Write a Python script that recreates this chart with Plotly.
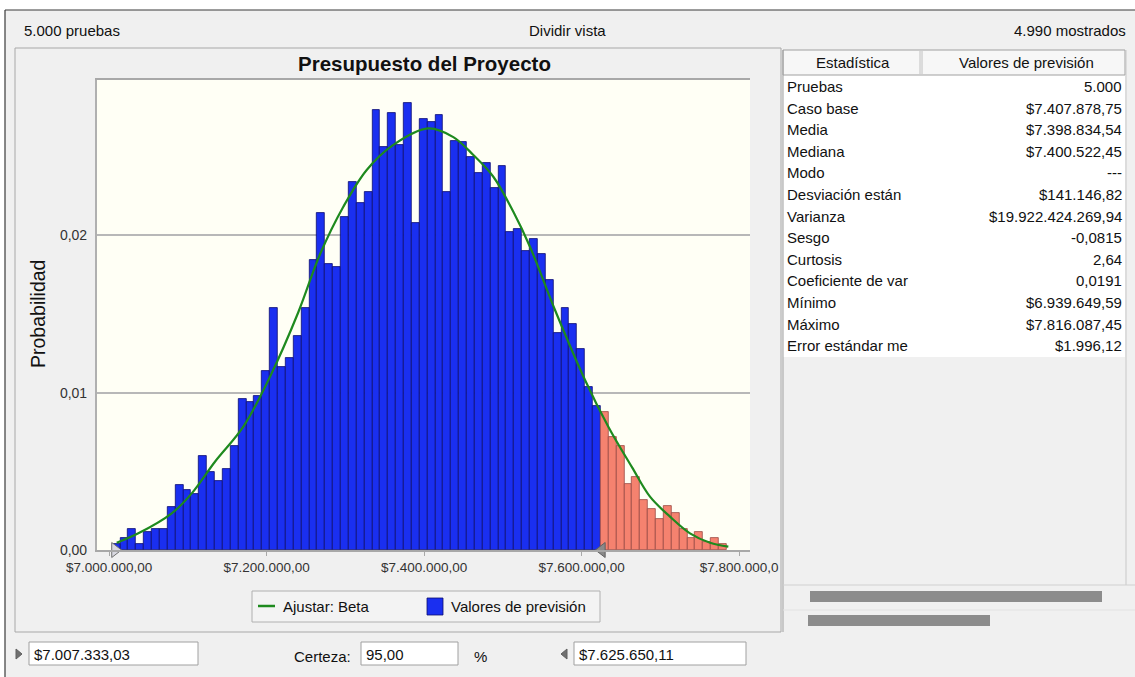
import plotly.graph_objects as go

# ---------------- DATA ----------------
BIN_START = 7004000
BIN_WIDTH = 10000
probabilities = [
    0.00038, 0.00074, 0.00134, 0.00038, 0.00116, 0.00134, 0.00134, 0.00275, 0.00413, 0.00381,
    0.00356, 0.00598, 0.00498, 0.00441, 0.00515, 0.00661, 0.00958, 0.00939, 0.00979, 0.01138,
    0.01537, 0.01165, 0.01223, 0.01360, 0.01537, 0.01844, 0.02140, 0.01818, 0.01801, 0.02119,
    0.02338, 0.02203, 0.02278, 0.02797, 0.02559, 0.02781, 0.02575, 0.02840, 0.02081, 0.02738,
    0.02721, 0.02764, 0.02278, 0.02600, 0.02596, 0.02500, 0.02399, 0.02458, 0.02303, 0.02439,
    0.02024, 0.02039, 0.01901, 0.01977, 0.01880, 0.01716, 0.01378, 0.01537, 0.01435, 0.01280,
    0.01036, 0.00915, 0.00879, 0.00716, 0.00659, 0.00420, 0.00464, 0.00318, 0.00259, 0.00200,
    0.00280, 0.00233, 0.00132, 0.00076, 0.00114, 0.00050, 0.00074, 0.00038,
]
fit_x = [7009500, 7037000, 7079400, 7104800, 7134300, 7170300, 7204200, 7240000, 7267700,
         7297300, 7327000, 7360800, 7405000, 7437000, 7462400, 7487800, 7513200, 7534300,
         7566100, 7604200, 7633800, 7664000, 7686700, 7712100, 7737500, 7763000, 7786200]
fit_p = [0.00046, 0.00106, 0.00233, 0.00360, 0.00561, 0.00784, 0.01102, 0.01510, 0.01880,
         0.02182, 0.02416, 0.02575, 0.02680, 0.02625, 0.02511, 0.02373, 0.02150, 0.01928,
         0.01526, 0.01081, 0.00784, 0.00525, 0.00339, 0.00212, 0.00106, 0.00046, 0.00021]

lower_bound = 7007333.03
upper_bound = 7625650.11
lower_text = "$7.007.333,03"
upper_text = "$7.625.650,11"
certainty_text = "95,00"

x_tickvals = [7000000, 7200000, 7400000, 7600000, 7800000]
x_ticktext = ["$7.000.000,00", "$7.200.000,00", "$7.400.000,00", "$7.600.000,00", "$7.800.000,0"]
y_tickvals = [0.0, 0.01, 0.02]
y_ticktext = ["0,00", "0,01", "0,02"]

stat_labels = ["Pruebas", "Caso base", "Media", "Mediana", "Modo", "Desviación están",
               "Varianza", "Sesgo", "Curtosis", "Coeficiente de var", "Mínimo", "Máximo",
               "Error estándar me"]
stat_values = ["5.000", "$7.407.878,75", "$7.398.834,54", "$7.400.522,45", "---", "$141.146,82",
               "$19.922.424.269,94", "-0,0815", "2,64", "0,0191", "$6.939.649,59",
               "$7.816.087,45", "$1.996,12"]

# ---------------- LAYOUT HELPERS ----------------
W, H = 1135, 677
FONT = "Liberation Sans, Arial, sans-serif"
TXT = 15


def px(x):
    return x / W


def py(y):
    return 1 - y / H


bin_centers = [BIN_START + BIN_WIDTH * (i + 0.5) for i in range(len(probabilities))]
blue_x, blue_y, red_x, red_y = [], [], [], []
for c, p in zip(bin_centers, probabilities):
    if lower_bound <= c <= upper_bound:
        blue_x.append(c); blue_y.append(p)
    else:
        red_x.append(c); red_y.append(p)

fig = go.Figure()
fig.add_trace(go.Bar(x=blue_x, y=blue_y, width=BIN_WIDTH, name="Valores de previsión",
                     marker=dict(color="#1a2ff0", line=dict(color="#0c0c70", width=0.8))))
fig.add_trace(go.Bar(x=red_x, y=red_y, width=BIN_WIDTH, name="fuera",
                     marker=dict(color="#f5826f", line=dict(color="#9a4a44", width=0.8))))
fig.add_trace(go.Scatter(x=fit_x, y=fit_p, mode="lines", name="Ajustar: Beta",
                         line=dict(color="#1e8a1e", width=2.2, shape="spline")))
# certainty markers
fig.add_trace(go.Scatter(x=[lower_bound], y=[0], mode="markers", cliponaxis=False,
                         marker=dict(symbol="triangle-right", size=13, color="#d8d8e0",
                                     line=dict(color="#707070", width=1))))
fig.add_trace(go.Scatter(x=[upper_bound], y=[0], mode="markers", cliponaxis=False,
                         marker=dict(symbol="triangle-left", size=13, color="#8a8a8a",
                                     line=dict(color="#606060", width=1))))

x0p, x1p = 96.7, 750
y0p, y1p = 550, 80
x_range = [7000000 + (x0p - 109.2) / 0.7875 * 1000, 7000000 + (x1p - 109.2) / 0.7875 * 1000]

shapes = []
annotations = []

# outer frame
shapes.append(dict(type="rect", xref="paper", yref="paper", x0=0, x1=1, y0=py(10), y1=1,
                   fillcolor="white", line=dict(width=0), layer="below"))
shapes.append(dict(type="rect", xref="paper", yref="paper", x0=0, x1=px(5), y0=0, y1=1,
                   fillcolor="white", line=dict(width=0), layer="below"))
shapes.append(dict(type="line", xref="paper", yref="paper", x0=px(5), x1=1, y0=py(10), y1=py(10),
                   line=dict(color="#3a3a3a", width=1.2)))
shapes.append(dict(type="line", xref="paper", yref="paper", x0=px(5), x1=px(5), y0=0, y1=py(10),
                   line=dict(color="#3a3a3a", width=1.2)))

# chart panel border
shapes.append(dict(type="rect", xref="paper", yref="paper", x0=px(15), x1=px(781), y0=py(632), y1=py(48),
                   line=dict(color="#a8a8a8", width=1), fillcolor="rgba(0,0,0,0)", layer="below"))

# top row texts
annotations += [
    dict(text="5.000 pruebas", x=px(22), y=py(31), xanchor="left", yanchor="middle"),
    dict(text="Dividir vista", x=px(567), y=py(31), xanchor="center", yanchor="middle"),
    dict(text="4.990 mostrados", x=px(1128), y=py(31), xanchor="right", yanchor="middle"),
]

# title
annotations.append(dict(text="<b>Presupuesto del Proyecto</b>", x=px(424), y=py(64),
                        xanchor="center", yanchor="middle", font=dict(size=20.5, color="#111")))

# legend
shapes.append(dict(type="rect", xref="paper", yref="paper", x0=px(252), x1=px(600), y0=py(622), y1=py(591),
                   line=dict(color="#b0b0b0", width=1), fillcolor="#f3f3f3", layer="below"))
shapes.append(dict(type="line", xref="paper", yref="paper", x0=px(258), x1=px(275), y0=py(606), y1=py(606),
                   line=dict(color="#1e8a1e", width=2.5)))
shapes.append(dict(type="rect", xref="paper", yref="paper", x0=px(427), x1=px(443), y0=py(615), y1=py(598),
                   line=dict(color="#0c0c70", width=0.8), fillcolor="#1a2ff0"))
annotations += [
    dict(text="Ajustar: Beta", x=px(281), y=py(606), xanchor="left", yanchor="middle"),
    dict(text="Valores de previsión", x=px(449), y=py(606), xanchor="left", yanchor="middle"),
]

# bottom input row
for (bx0, bx1, txt) in [(29, 198, lower_text), (361, 458, certainty_text), (574, 746, upper_text)]:
    shapes.append(dict(type="rect", xref="paper", yref="paper", x0=px(bx0), x1=px(bx1), y0=py(665), y1=py(642),
                       line=dict(color="#a0a0a0", width=1), fillcolor="white", layer="below"))
    annotations.append(dict(text=txt, x=px(bx0 + 3), y=py(654), xanchor="left", yanchor="middle"))
annotations += [
    dict(text="Certeza:", x=px(353), y=py(656), xanchor="right", yanchor="middle"),
    dict(text="%", x=px(472), y=py(656), xanchor="left", yanchor="middle"),
]
shapes.append(dict(type="path", xref="paper", yref="paper",
                   path=f"M {px(16)},{py(649)} L {px(22)},{py(654)} L {px(16)},{py(659)} Z",
                   fillcolor="#707070", line=dict(color="#606060", width=1)))
shapes.append(dict(type="path", xref="paper", yref="paper",
                   path=f"M {px(567)},{py(649)} L {px(561)},{py(654)} L {px(567)},{py(659)} Z",
                   fillcolor="#707070", line=dict(color="#606060", width=1)))

# stats table
shapes.append(dict(type="rect", xref="paper", yref="paper", x0=px(783), x1=px(1125), y0=py(357), y1=py(75),
                   line=dict(width=0), fillcolor="white", layer="below"))
shapes.append(dict(type="rect", xref="paper", yref="paper", x0=px(783), x1=px(1125), y0=py(75), y1=py(50),
                   line=dict(color="#a0a0a0", width=1), fillcolor="#f7f7f7", layer="below"))
shapes.append(dict(type="line", xref="paper", yref="paper", x0=px(920), x1=px(920), y0=py(74), y1=py(51),
                   line=dict(color="#c0c0c0", width=1)))
shapes.append(dict(type="line", xref="paper", yref="paper", x0=px(922), x1=px(922), y0=py(74), y1=py(51),
                   line=dict(color="#c0c0c0", width=1)))
shapes.append(dict(type="line", xref="paper", yref="paper", x0=px(783), x1=px(783), y0=py(632), y1=py(50),
                   line=dict(color="#a0a0a0", width=1)))
shapes.append(dict(type="line", xref="paper", yref="paper", x0=px(1126), x1=px(1126), y0=py(585), y1=py(50),
                   line=dict(color="#c8c8c8", width=1)))
shapes.append(dict(type="line", xref="paper", yref="paper", x0=px(783), x1=px(1135), y0=py(585), y1=py(585),
                   line=dict(color="#d0d0d0", width=1)))
shapes.append(dict(type="line", xref="paper", yref="paper", x0=px(783), x1=px(1135), y0=py(610), y1=py(610),
                   line=dict(color="#e2e2e2", width=1)))
shapes.append(dict(type="rect", xref="paper", yref="paper", x0=px(810), x1=px(1102), y0=py(602), y1=py(591),
                   line=dict(width=0), fillcolor="#8c8c8c"))
shapes.append(dict(type="rect", xref="paper", yref="paper", x0=px(808), x1=px(990), y0=py(626), y1=py(615),
                   line=dict(width=0), fillcolor="#8c8c8c"))
annotations += [
    dict(text="Estadística", x=px(853), y=py(63), xanchor="center", yanchor="middle"),
    dict(text="Valores de previsión", x=px(1026), y=py(63), xanchor="center", yanchor="middle"),
]
for i, (lab, val) in enumerate(zip(stat_labels, stat_values)):
    yc = 86.5 + 21.6 * i
    annotations.append(dict(text=lab, x=px(785), y=py(yc), xanchor="left", yanchor="middle"))
    annotations.append(dict(text=val, x=px(1124), y=py(yc), xanchor="right", yanchor="middle"))

# y axis title
annotations.append(dict(text="Probabilidad", x=px(38), y=py(314), xanchor="center", yanchor="middle",
                        textangle=-90, font=dict(size=19.5, color="#111")))

for a in annotations:
    a.setdefault("xref", "paper")
    a.setdefault("yref", "paper")
    a.setdefault("showarrow", False)
    a.setdefault("font", dict(size=TXT, color="#111"))

fig.update_layout(
    template="none",
    width=W, height=H,
    margin=dict(l=0, r=0, t=0, b=0, pad=0, autoexpand=False),
    paper_bgcolor="#f0f0f0",
    plot_bgcolor="#fffff5",
    showlegend=False,
    barmode="overlay",
    bargap=0,
    font=dict(family=FONT, size=TXT, color="#111"),
    shapes=shapes,
    annotations=annotations,
    xaxis=dict(domain=[px(x0p), px(x1p)], range=x_range, tickvals=x_tickvals, ticktext=x_ticktext,
               automargin=False, showgrid=False, zeroline=False, showline=True, linecolor="#a8a8a8",
               linewidth=1.5, mirror=True, ticks="outside", ticklen=4, tickcolor="#a8a8a8",
               tickfont=dict(size=13.5, color="#333", family=FONT)),
    yaxis=dict(domain=[py(y0p), py(y1p)], range=[0, (y0p - y1p) / 15730], tickvals=y_tickvals,
               ticktext=y_ticktext, automargin=False, showgrid=True, gridcolor="#b8b8b8", gridwidth=1.5,
               zeroline=False, showline=True, linecolor="#b0b0b0", linewidth=1.5, ticks="",
               ticklabelstandoff=5,
               tickfont=dict(size=14, color="#333", family=FONT)),
)

fig.write_html("out.html", config={"displayModeBar": False},
               post_script="document.body.style.margin='0';")
